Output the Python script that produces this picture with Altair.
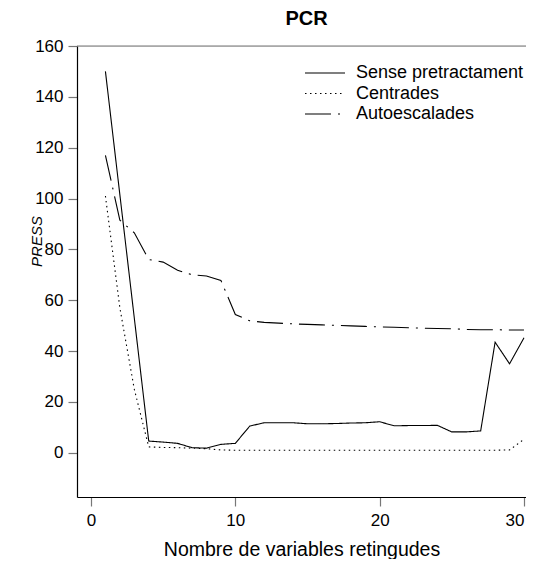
import altair as alt
import pandas as pd

# ---- data ----
n_vars = list(range(1, 31))
sense = [150.0, 101.5, 53.0, 4.6, 4.2, 3.7, 2.0, 1.8, 3.3, 3.7,
         10.5, 11.8, 11.8, 11.8, 11.4, 11.4, 11.5, 11.7, 11.8, 12.2,
         10.6, 10.7, 10.7, 10.8, 8.2, 8.2, 8.6, 43.5, 35.0, 45.2]
centrades = [101.0, 57.0, 25.0, 2.3, 2.1, 2.0, 1.8, 1.6, 1.1, 1.0,
             1.0, 1.0, 1.0, 1.0, 1.0, 1.0, 1.0, 1.0, 1.0, 1.0,
             1.0, 1.0, 1.0, 1.0, 1.0, 1.0, 1.0, 1.0, 1.1, 5.3]
autoesc = [117.0, 91.5, 86.5, 76.0, 75.0, 71.8, 70.0, 69.5, 67.8, 54.4,
           51.9, 51.3, 51.0, 50.7, 50.5, 50.3, 50.1, 49.9, 49.7, 49.5,
           49.4, 49.2, 49.0, 48.9, 48.8, 48.5, 48.4, 48.4, 48.3, 48.3]
series_names = ["Sense pretractament", "Centrades", "Autoescalades"]
x_ticks = [0, 10, 20, 30]
y_ticks = [0, 20, 40, 60, 80, 100, 120, 140, 160]

rows = []
for name, vals in zip(series_names, [sense, centrades, autoesc]):
    for xv, yv in zip(n_vars, vals):
        rows.append({"x": xv, "y": yv, "serie": name})
df = pd.DataFrame(rows)

FONT = "Liberation Sans"
W, H = 449, 451

xscale = alt.Scale(domain=[-0.97, 30.14], nice=False, zero=False)
yscale = alt.Scale(domain=[-17.4, 160], nice=False, zero=False)

lines = alt.Chart(df).mark_line(color="black", strokeWidth=1.1).encode(
    x=alt.X("x:Q", scale=xscale,
            axis=alt.Axis(values=x_ticks, title="Nombre de variables retingudes",
                          grid=False, domainColor="black", domainWidth=1.2,
                          tickColor="#777777", tickSize=9, tickWidth=1.2,
                          labelFont=FONT, labelFontSize=17, labelColor="black",
                          labelPadding=6, labelFlush=4,
                          titleFont=FONT, titleFontSize=19.5,
                          titleFontWeight="normal", titleColor="black",
                          titleBaseline="alphabetic", titleY=58)),
    y=alt.Y("y:Q", scale=yscale,
            axis=alt.Axis(values=y_ticks, title="PRESS", grid=False,
                          domainColor="black", domainWidth=1.2,
                          tickColor="#777777", tickSize=9, tickWidth=1.2,
                          labelFont=FONT, labelFontSize=17, labelColor="black",
                          labelPadding=5, titleFont=FONT, titleFontSize=15,
                          titleFontStyle="italic", titleFontWeight="normal",
                          titleColor="black", titleAngle=270,
                          titleBaseline="middle", titleAlign="center",
                          titleX=-41, titleY=195)),
    strokeDash=alt.StrokeDash(
        "serie:N",
        scale=alt.Scale(domain=series_names,
                        range=[[1, 0], [1.5, 3.5], [26, 7, 2, 7]]),
        legend=alt.Legend(orient="none", legendX=227, legendY=17, title=None,
                          symbolType="stroke", symbolSize=1600,
                          symbolStrokeWidth=1.2, symbolStrokeColor="black",
                          labelFont=FONT, labelFontSize=18, labelColor="black",
                          labelOffset=10, labelLimit=400, clipHeight=20,
                          rowPadding=0.5)),
    order="x:Q",
)

top_line = alt.Chart(pd.DataFrame({"y": [160]})).mark_rule(
    color="#777777", strokeWidth=1.2).encode(y=alt.Y("y:Q", scale=yscale))

chart = alt.layer(top_line, lines).properties(
    width=W, height=H,
    title=alt.Title("PCR", font=FONT, fontSize=20, fontWeight="bold",
                    color="black", offset=8, anchor="middle", dx=5),
    autosize=alt.AutoSizeParams(type="none"),
    padding={"left": 69, "top": 38, "right": 0, "bottom": 62},
).configure_view(strokeWidth=0).configure(background="white")

chart.save("out.html", embed_options={"renderer": "svg", "actions": False})
